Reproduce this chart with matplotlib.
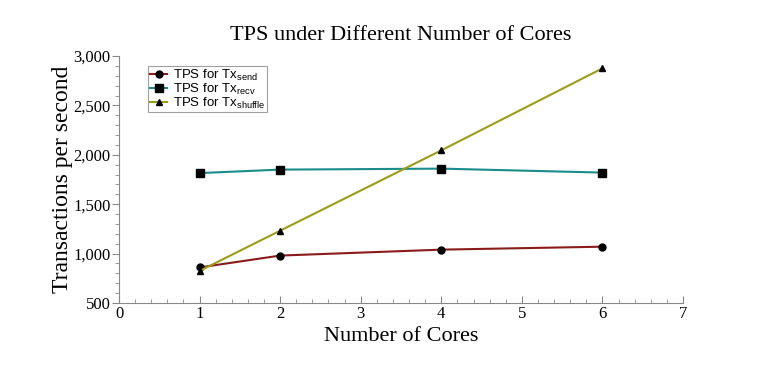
import numpy as np
import matplotlib.pyplot as plt
from matplotlib.ticker import MultipleLocator, FuncFormatter

# data
cores = [1, 2, 4, 6]
tps_send = [860, 980, 1040, 1070]
tps_recv = [1815, 1850, 1860, 1820]
tps_shuffle = [825, 1232, 2045, 2875]

plt.rcParams['mathtext.default'] = 'regular'

fig = plt.figure(figsize=(7.67, 3.77), dpi=100)
ax = fig.add_axes([119 / 767, 1 - 303 / 377, (683 - 119) / 767, (303 - 56) / 377])

ax.plot(cores, tps_send, color='#8b1a1a', lw=1.5, marker='o', ms=5,
        mfc='black', mec='black', label='TPS for Tx$_{send}$')
ax.plot(cores, tps_recv, color='#1a8c8c', lw=1.5, marker='s', ms=6,
        mfc='black', mec='black', label='TPS for Tx$_{recv}$')
ax.plot(cores, tps_shuffle, color='#9c9c1a', lw=1.5, marker='^', ms=5,
        mfc='black', mec='black', label='TPS for Tx$_{shuffle}$')

ax.set_xlim(0, 7)
ax.set_ylim(500, 3000)
ax.xaxis.set_major_locator(MultipleLocator(1))
ax.xaxis.set_minor_locator(MultipleLocator(0.2))
ax.yaxis.set_major_locator(MultipleLocator(500))
ax.yaxis.set_minor_locator(MultipleLocator(100))
ax.yaxis.set_major_formatter(FuncFormatter(lambda v, p: '{:,.0f}'.format(v)))

for s in ['top', 'right']:
    ax.spines[s].set_visible(False)
for s in ['left', 'bottom']:
    ax.spines[s].set_color('#888888')
    ax.spines[s].set_linewidth(0.8)

ax.tick_params(axis='x', which='both', direction='in', color='#888888')
ax.tick_params(axis='x', which='major', length=5)
ax.tick_params(axis='x', which='minor', length=3)
ax.tick_params(axis='y', which='both', direction='out', color='#888888')
ax.tick_params(axis='y', which='major', length=5)
ax.tick_params(axis='y', which='minor', length=3)

for lab in ax.get_xticklabels() + ax.get_yticklabels():
    lab.set_fontfamily('Liberation Serif')
    lab.set_fontsize(12)
ax.tick_params(axis='x', pad=2)
ax.tick_params(axis='y', pad=1)

ax.set_xlabel('Number of Cores', fontfamily='Liberation Serif', fontsize=16, labelpad=4)
ax.set_ylabel('Transactions per second', fontfamily='Liberation Serif', fontsize=17, labelpad=0)
fig.text(0.5 * (119 + 683) / 767, 1 - 36 / 377, 'TPS under Different Number of Cores',
         fontfamily='Liberation Serif', fontsize=16, ha='center', va='center')

leg = ax.legend(loc='upper left', bbox_to_anchor=(0.052, 0.96), frameon=True, fancybox=False,
                prop={'family': 'Liberation Sans', 'size': 9.5}, handlelength=1.3,
                handletextpad=0.4, borderpad=0.15, labelspacing=-0.1, borderaxespad=0)
leg.get_frame().set_edgecolor('#888888')
leg.get_frame().set_linewidth(0.8)

plt.savefig('out.png', dpi=100)
